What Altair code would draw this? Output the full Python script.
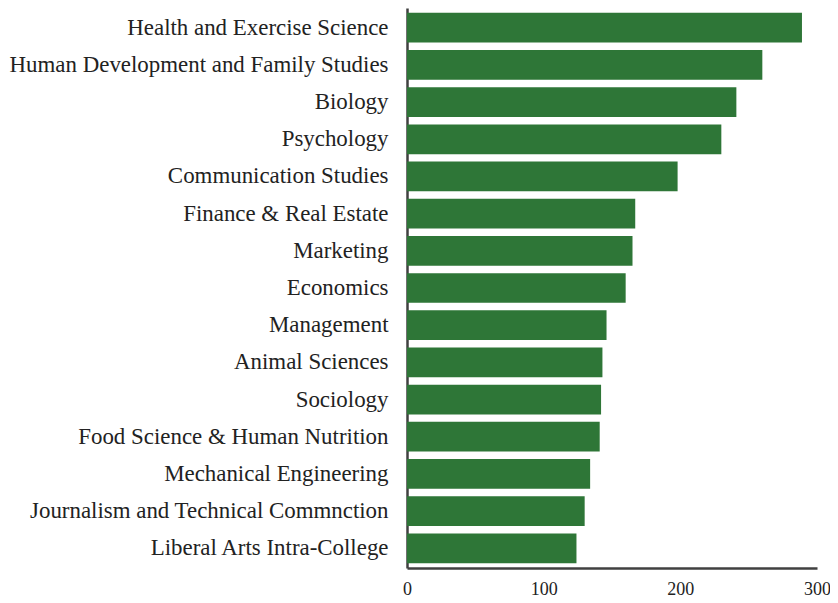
import altair as alt
import pandas as pd

majors = [
    "Health and Exercise Science",
    "Human Development and Family Studies",
    "Biology",
    "Psychology",
    "Communication Studies",
    "Finance & Real Estate",
    "Marketing",
    "Economics",
    "Management",
    "Animal Sciences",
    "Sociology",
    "Food Science & Human Nutrition",
    "Mechanical Engineering",
    "Journalism and Technical Commnction",
    "Liberal Arts Intra-College",
]
counts = [289, 260, 241, 230, 198, 167, 165, 160, 146, 143, 142, 141, 134, 130, 124]

df = pd.DataFrame({"major": majors, "count": counts})

FONT = "Liberation Serif"

chart = (
    alt.Chart(df)
    .mark_bar(color="#2e7637")
    .encode(
        x=alt.X(
            "count:Q",
            scale=alt.Scale(domain=[0, 300], nice=False),
            axis=alt.Axis(
                values=[0, 100, 200, 300],
                title=None,
                grid=False,
                ticks=False,
                domainColor="#404040",
                domainWidth=2.5,
                labelFont=FONT,
                labelFontSize=18,
                labelColor="#222222",
                labelPadding=12,
                labelFlush=False,
            ),
        ),
        y=alt.Y(
            "major:N",
            sort=majors,
            scale=alt.Scale(paddingInner=0.2, paddingOuter=0.13),
            axis=alt.Axis(
                title=None,
                ticks=False,
                domainColor="#404040",
                domainWidth=2.5,
                labelFont=FONT,
                labelFontSize=22.9,
                labelColor="#222222",
                labelPadding=19,
                labelLimit=500,
            ),
        ),
    )
    .properties(
        width=410,
        height=560,
        autosize=alt.AutoSizeParams(type="none"),
        padding={"left": 399, "top": 0, "right": 13, "bottom": 30},
    )
    .configure_view(stroke=None)
)

chart.save("out.html", embed_options={"renderer": "svg", "actions": False})
